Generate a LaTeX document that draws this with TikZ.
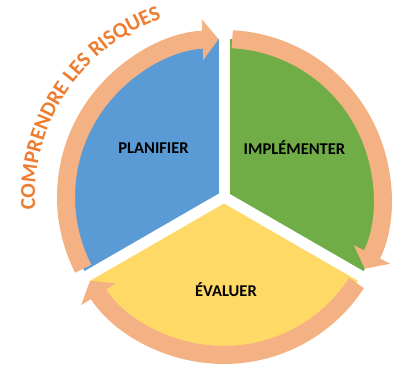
\documentclass[tikz,border=0pt]{standalone}
\usepackage{fontspec}
\setmainfont{Carlito}
\usetikzlibrary{arrows.meta,decorations.text}

\definecolor{planbleu}{HTML}{5B9BD5}
\definecolor{implvert}{HTML}{70AD47}
\definecolor{evaljaune}{HTML}{FFD966}
\definecolor{cycleorange}{HTML}{F4B183}
\definecolor{risqueorange}{HTML}{ED7D31}

\begin{document}
\begin{tikzpicture}[x=1pt,y=1pt,
	fleche/.style={cycleorange, line width=18pt, -{Triangle[length=16pt,width=40pt]}},
	etape/.style={font=\fontsize{16.5}{20}\selectfont\bfseries, text=black}]
	\useasboundingbox (-224,-167) rectangle (172,197);
	% les trois secteurs
	\fill[planbleu] (0,0) -- (90:158) arc[start angle=90, end angle=210, radius=158] -- cycle;
	\fill[implvert] (0,0) -- (-30:158) arc[start angle=-30, end angle=90, radius=158] -- cycle;
	\fill[evaljaune] (0,0) -- (210:158) arc[start angle=210, end angle=330, radius=158] -- cycle;
	\foreach \a in {90,210,330}
		\draw[white, line width=11pt] (0,0) -- (\a:180);
	% fleches du cycle
	\draw[fleche] (207:158) arc[start angle=207, end angle=92, radius=158];
	\draw[fleche] (87:158) arc[start angle=87, end angle=-27, radius=158];
	\draw[fleche] (-33:158) arc[start angle=-33, end angle=-148, radius=158];
	\node[etape] (planifier) at (145:86) {PLANIFIER};
	\node[etape] (implementer) at (35:86) {IMPLÉMENTER};
	\node[etape] (evaluer) at (2,-93) {ÉVALUER};
	\path[decorate, decoration={text along path, text align=center,
		text={|\fontsize{21.5}{26}\selectfont\bfseries\color{risqueorange}|COMPRENDRE LES RISQUES}}]
		(205:189) arc[start angle=205, end angle=88, radius=189];
\end{tikzpicture}
\end{document}
